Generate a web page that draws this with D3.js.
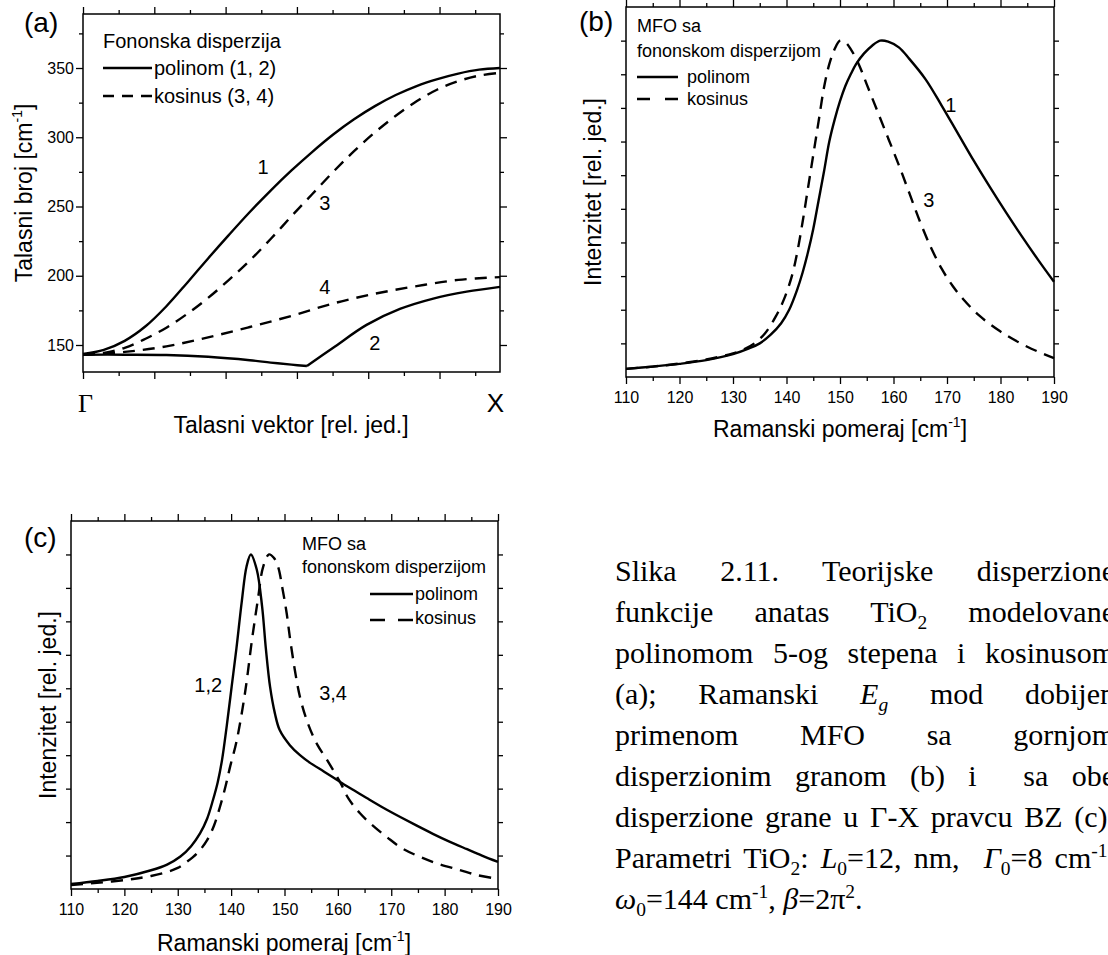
<!DOCTYPE html>
<html>
<head>
<meta charset="utf-8">
<script src="https://cdn.jsdelivr.net/npm/d3@7"></script>
<style>
  body { margin: 0; background: #fff; overflow: hidden; }
  #wrap { position: relative; width: 1108px; height: 955px; overflow: hidden; background: #fff; }
  svg { position: absolute; left: 0; top: 0; }
  svg text { font-family: "Liberation Sans", Arial, sans-serif; fill: #000; }
  .caption { position: absolute; left: 615px; top: 550px; width: 500px;
    font-family: "Liberation Serif", "Times New Roman", serif; font-size: 30px; line-height: 41px; color: #000; }
  .caption div { text-align: justify; text-align-last: justify; }
  .caption div.last { text-align-last: left; }
  .caption sub, .caption sup { font-size: 0.65em; line-height: 0; }
</style>
</head>
<body>
<div id="wrap"></div>
<script>
// ---------- (a) phonon dispersion, q: 0 = Gamma, 1 = X ; omega in cm-1 ----------
const polyUpper = [[0,143.5],[0.05,146.5],[0.1,153],[0.15,163.5],[0.2,178],[0.25,195],[0.3,212.5],
  [0.35,229.5],[0.4,246],[0.45,261.5],[0.5,276],[0.55,289.5],[0.6,302],[0.65,313],[0.7,322.5],
  [0.75,330.5],[0.8,337],[0.85,342],[0.9,346],[0.95,348.8],[1,350]];
const polyLowerA = [[0,143],[0.1,143],[0.2,142.8],[0.3,141.5],[0.4,139],[0.45,137.3],[0.5,135.8],[0.537,134.8]];
const polyLowerB = [[0.537,134.8],[0.6,148],[0.68,164.5],[0.76,176],[0.84,183.5],[0.92,188.5],[1,192]];
const cosUpper = [[0,143],[0.05,144.3],[0.1,148],[0.15,154.5],[0.2,162.5],[0.25,172.5],[0.3,184],
  [0.35,197],[0.4,211],[0.45,226.5],[0.5,243],[0.55,259],[0.6,275],[0.65,290],[0.7,303.5],[0.75,315.5],
  [0.8,326],[0.85,334.5],[0.9,340.5],[0.95,344.5],[1,346.5]];
const cosLower = [[0,143],[0.1,145],[0.2,149],[0.3,155.5],[0.4,163],[0.5,171],[0.6,180],[0.7,187],
  [0.8,192.5],[0.9,197],[1,199]];
const aCurveLabels = [['1',0.432,278.5],['3',0.58,252.5],['4',0.58,192],['2',0.70,151.4]];
const aYMajor = [150, 200, 250, 300, 350];
const aYMinor = [175, 225, 275, 325, 375];
const aXMajor = [0, 0.171, 0.342, 0.513, 0.684, 0.855];
const aXMinor = [0.0855, 0.2565, 0.4275, 0.5985, 0.7695, 0.9405];

// ---------- (b) MFO with upper branch only ----------
const bPoly = [[110,0.024],[115,0.031],[120,0.039],[125,0.05],[130,0.068],[133,0.085],[135,0.1],[137,0.125],
  [139,0.16],[140.5,0.2],[142,0.26],[143,0.31],[144,0.37],[145,0.44],[146,0.525],[147,0.61],[148,0.7],
  [149,0.765],[150,0.82],[151,0.865],[152,0.9],[153,0.93],[154.5,0.962],[156,0.985],[157.5,1.0],
  [159,0.997],[161,0.98],[163,0.945],[166,0.885],[169,0.807],[172,0.725],[175,0.643],[178,0.565],
  [181,0.49],[184,0.418],[187,0.349],[190,0.283]];
const bCos = [[110,0.024],[115,0.031],[120,0.04],[125,0.052],[128,0.062],[130,0.07],[132,0.082],[134,0.1],
  [136,0.13],[138,0.18],[139.5,0.23],[141,0.3],[142,0.37],[143,0.46],[144,0.56],[145,0.66],[146,0.76],
  [147,0.86],[148,0.93],[149,0.975],[150,1.0],[151,0.995],[152,0.975],[153.5,0.93],[155,0.87],[157,0.79],
  [159,0.71],[161,0.63],[163,0.545],[165,0.46],[167,0.385],[169,0.322],[171,0.272],[173,0.232],[176,0.183],
  [180,0.135],[185,0.09],[190,0.056]];
const bCurveLabels = [['1',170.7,0.809],['3',166.6,0.526]];

// ---------- (c) MFO with both branches ----------
const cPoly = [[110,0.015],[115,0.024],[120,0.036],[125,0.056],[128,0.073],[130.5,0.097],[132.5,0.128],
  [134.2,0.167],[135.5,0.21],[136.6,0.266],[137.5,0.32],[138.3,0.386],[139.2,0.49],[140.1,0.605],[141,0.72],
  [142,0.86],[142.9,0.965],[143.7,1.0],[144.8,0.955],[145.8,0.845],[146.5,0.72],[147.3,0.604],[148.2,0.525],
  [149.1,0.475],[151,0.43],[152.9,0.4],[154.8,0.377],[157.5,0.35],[160.4,0.32],[163,0.295],[165.4,0.272],
  [168.5,0.243],[171.6,0.216],[174.7,0.19],[177.8,0.165],[181,0.141],[184.2,0.119],[187,0.1],[190,0.081]];
const cCos = [[110,0.012],[116,0.02],[121.6,0.03],[125,0.039],[128,0.051],[130,0.063],[131.7,0.081],
  [133.7,0.108],[135.5,0.146],[136.8,0.19],[137.9,0.245],[139,0.31],[139.8,0.365],[141,0.44],[142.6,0.586],
  [143.9,0.744],[145,0.864],[146,0.963],[147.1,1.0],[148,0.99],[148.8,0.963],[149.6,0.9],[150.4,0.825],
  [151.2,0.73],[152.9,0.574],[154.5,0.49],[156.2,0.43],[158,0.385],[160.4,0.32],[162,0.27],[164.1,0.227],
  [166.5,0.19],[169.2,0.155],[172,0.122],[175.4,0.096],[179,0.074],[182.8,0.057],[186,0.042],[190,0.03]];
const cCurveLabels = [['1,2',135.7,0.61],['3,4',159.1,0.586]];

const shiftMajor = [110, 120, 130, 140, 150, 160, 170, 180, 190];
const shiftMinor = [115, 125, 135, 145, 155, 165, 175, 185];
const intTicks = [0.1, 0.2, 0.3, 0.4, 0.5, 0.6, 0.7, 0.8, 0.9, 1.0];

const captionLines = [
  'Slika 2.11. Teorijske disperzione',
  'funkcije anatas TiO<sub>2</sub> modelovane',
  'polinomom 5-og stepena i kosinusom',
  '(a); Ramanski <i>E<sub>g</sub></i> mod dobijen',
  'primenom MFO sa gornjom',
  'disperzionim granom (b) i &nbsp;sa obe',
  'disperzione grane u \u0393-X pravcu BZ (c).',
  'Parametri TiO<sub>2</sub>: <i>L</i><sub>0</sub>=12, nm, &nbsp;<i>\u0393</i><sub>0</sub>=8 cm<sup>-1</sup>,',
  '<i>\u03c9</i><sub>0</sub>=144 cm<sup>-1</sup>, <i>\u03b2</i>=2\u03c0<sup>2</sup>.'
];

const wrap = d3.select('#wrap');
const svg = wrap.append('svg').attr('width', 1108).attr('height', 955);

const DASH = '12,8';

// ticks on all four sides, pointing out, like the Origin frame
function drawFrame(x, y, o) {
  const [x0, x1] = x.range();
  const [y0, y1] = y.range(); // y0 bottom
  const g = svg.append('g');
  const add = (axis, tx, ty) => {
    const a = g.append('g').attr('transform', `translate(${tx},${ty})`).call(axis);
    a.select('.domain').remove();
    a.selectAll('line').attr('stroke', '#000').attr('stroke-width', 1.3);
    return a;
  };
  add(d3.axisBottom(x).tickValues(o.xMinor).tickSize(4).tickFormat(''), 0, y0);
  add(d3.axisTop(x).tickValues(o.xMinor).tickSize(4).tickFormat(''), 0, y1);
  add(d3.axisTop(x).tickValues(o.xMajor).tickSize(7).tickFormat(''), 0, y1);
  const bottom = add(d3.axisBottom(x).tickValues(o.xMajor).tickSize(7).tickPadding(8)
    .tickFormat(o.xLabels ? d3.format('d') : ''), 0, y0);
  bottom.selectAll('text').style('font-size', '16px').attr('font-family', null);
  if (o.yMinor) {
    add(d3.axisLeft(y).tickValues(o.yMinor).tickSize(4).tickFormat(''), x0, 0);
    add(d3.axisRight(y).tickValues(o.yMinor).tickSize(4).tickFormat(''), x1, 0);
  }
  add(d3.axisRight(y).tickValues(o.yMajor).tickSize(o.yTick).tickFormat(''), x1, 0);
  const left = add(d3.axisLeft(y).tickValues(o.yMajor).tickSize(o.yTick).tickPadding(2)
    .tickFormat(o.yLabels ? d3.format('d') : ''), x0, 0);
  left.selectAll('text').style('font-size', '16px').attr('font-family', null);
  g.append('rect').attr('x', x0).attr('y', y1).attr('width', x1 - x0).attr('height', y0 - y1)
    .attr('fill', 'none').attr('stroke', '#000').attr('stroke-width', 1.5);
}

function curve(x, y, data, dashed) {
  const line = d3.line().x(d => x(d[0])).y(d => y(d[1])).curve(d3.curveCatmullRom.alpha(0.5));
  svg.append('path').attr('d', line(data)).attr('fill', 'none').attr('stroke', '#000')
    .attr('stroke-width', 2.4).attr('stroke-linejoin', 'round')
    .attr('stroke-dasharray', dashed ? DASH : null);
}

function text(xp, yp, str, size, anchor) {
  return svg.append('text').attr('x', xp).attr('y', yp).attr('text-anchor', anchor || 'start')
    .style('font-size', size + 'px').text(str);
}

// axis title with a cm-1 superscript
function title(xp, yp, main, sup, tail, rotate) {
  const t = svg.append('text').attr('text-anchor', 'middle').style('font-size', '23px')
    .attr('transform', rotate ? `translate(${xp},${yp}) rotate(-90)` : `translate(${xp},${yp})`);
  t.append('tspan').text(main);
  if (sup) {
    t.append('tspan').attr('dy', -10).style('font-size', '14px').text(sup);
    t.append('tspan').attr('dy', 10).text(tail);
  }
}

function legendRow(x1, x2, yl, dash, xt, yt, label, size) {
  svg.append('line').attr('x1', x1).attr('x2', x2).attr('y1', yl).attr('y2', yl)
    .attr('stroke', '#000').attr('stroke-width', 2.4).attr('stroke-dasharray', dash);
  text(xt, yt, label, size);
}

// ================= panel (a) =================
{
  const x = d3.scaleLinear().domain([0, 1]).range([83, 500]);
  const y = d3.scaleLinear().domain([130.5, 389]).range([372, 14]);
  drawFrame(x, y, { xMajor: aXMajor, xMinor: aXMinor, yMajor: aYMajor, yMinor: aYMinor, yTick: 7, yLabels: true });
  curve(x, y, polyUpper, false);
  curve(x, y, polyLowerA, false);
  curve(x, y, polyLowerB, false);
  curve(x, y, cosUpper, true);
  curve(x, y, cosLower, true);
  aCurveLabels.forEach(d => text(x(d[1]), y(d[2]), d[0], 20, 'middle').attr('dy', '0.35em'));

  text(103, 48, 'Fononska disperzija', 20);
  legendRow(103, 152, 68, null, 154, 75, 'polinom (1, 2)', 20);
  legendRow(103, 152, 96, '11,8', 154, 103, 'kosinus (3, 4)', 20);

  text(24, 32, '(a)', 28);
  svg.append('text').attr('x', 78).attr('y', 412).style('font-size', '26px')
    .style('font-family', '"Liberation Serif", serif').text('\u0393');
  text(504, 412, 'X', 26, 'end');
  title(291, 433, 'Talasni vektor [rel. jed.]');
  title(32, 193, 'Talasni broj [cm', '-1', ']', true);
}

// ================= panel (b) =================
{
  const x = d3.scaleLinear().domain([110, 190]).range([626, 1054]);
  const y = d3.scaleLinear().domain([0, 1.1]).range([377, 7]);
  drawFrame(x, y, { xMajor: shiftMajor, xMinor: shiftMinor, yMajor: intTicks, yTick: 5, xLabels: true });
  curve(x, y, bPoly, false);
  curve(x, y, bCos, true);
  bCurveLabels.forEach(d => text(x(d[1]), y(d[2]), d[0], 20, 'middle').attr('dy', '0.35em'));

  text(637, 32, 'MFO sa', 18);
  text(637, 57, 'fononskom disperzijom', 18);
  legendRow(637, 678, 77, null, 687, 83, 'polinom', 18);
  legendRow(637, 678, 99, '13,15', 687, 105, 'kosinus', 18);

  text(579, 31, '(b)', 28);
  title(840, 437, 'Ramanski pomeraj [cm', '-1', ']');
  title(601, 192, 'Intenzitet [rel. jed.]', null, null, true);
}

// ================= panel (c) =================
{
  const x = d3.scaleLinear().domain([110, 190]).range([71, 498]);
  const y = d3.scaleLinear().domain([0, 1.1]).range([889, 521]);
  drawFrame(x, y, { xMajor: shiftMajor, xMinor: shiftMinor, yMajor: intTicks, yTick: 5, xLabels: true });
  curve(x, y, cPoly, false);
  curve(x, y, cCos, true);
  cCurveLabels.forEach(d => text(x(d[1]), y(d[2]), d[0], 20, 'middle').attr('dy', '0.35em'));

  text(302, 550, 'MFO sa', 18);
  text(302, 573, 'fononskom disperzijom', 18);
  legendRow(370, 413, 594, null, 415, 600, 'polinom', 18);
  legendRow(370, 413, 620, '15,13', 415, 624, 'kosinus', 18);

  text(24, 547, '(c)', 28);
  title(284, 951, 'Ramanski pomeraj [cm', '-1', ']');
  title(56, 705, 'Intenzitet [rel. jed.]', null, null, true);
}

// ================= caption =================
wrap.append('div').attr('class', 'caption')
  .selectAll('div').data(captionLines).enter().append('div')
  .attr('class', (d, i) => i === captionLines.length - 1 ? 'last' : null)
  .html(d => d);
</script>
</body>
</html>
